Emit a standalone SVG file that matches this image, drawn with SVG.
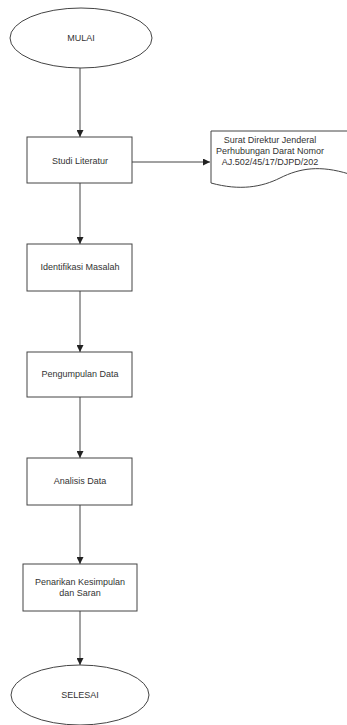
<svg xmlns="http://www.w3.org/2000/svg" width="347" height="725" viewBox="0 0 347 725">
<style>
.s{fill:#fff;stroke:#444;stroke-width:1}
.t{font-family:"Liberation Sans",Arial,sans-serif;font-size:9px;fill:#333;text-anchor:middle}
.c{stroke:#444;stroke-width:1;fill:none;marker-end:url(#a)}
</style>
<defs>
<marker id="a" viewBox="0 0 8 8" refX="8" refY="4" markerWidth="7" markerHeight="7" orient="auto" markerUnits="userSpaceOnUse">
<path d="M0,0 L8,4 L0,8 z" fill="#222"/>
</marker>
</defs>
<rect width="347" height="725" fill="#fff"/>
<g id="connectors">
<line class="c" x1="80" y1="68" x2="80" y2="137"/>
<line class="c" x1="132" y1="162" x2="210" y2="162"/>
<line class="c" x1="80" y1="183" x2="80" y2="244"/>
<line class="c" x1="80" y1="291" x2="80" y2="352"/>
<line class="c" x1="80" y1="397" x2="80" y2="458"/>
<line class="c" x1="80" y1="505" x2="80" y2="564"/>
<line class="c" x1="80" y1="611" x2="80" y2="665"/>
</g>
<g id="mulai">
<ellipse class="s" cx="81" cy="38" rx="71" ry="30"/>
<text class="t" x="81" y="41">MULAI</text>
</g>
<g id="studi">
<rect class="s" x="27" y="137" width="105" height="46"/>
<text class="t" x="80" y="164">Studi Literatur</text>
</g>
<g id="surat">
<path class="s" d="M211,131 L349,131 L349,174 C320,165 300,168 280,178 C262,187 240,191 211,183 Z"/>
<text class="t" x="270" y="143">Surat Direktur Jenderal</text>
<text class="t" x="270" y="154">Perhubungan Darat Nomor</text>
<text class="t" x="270" y="165">AJ.502/45/17/DJPD/202</text>
</g>
<g id="identifikasi">
<rect class="s" x="27" y="244" width="105" height="47"/>
<text class="t" x="80" y="270">Identifikasi Masalah</text>
</g>
<g id="pengumpulan">
<rect class="s" x="27" y="352" width="105" height="45"/>
<text class="t" x="80" y="377">Pengumpulan Data</text>
</g>
<g id="analisis">
<rect class="s" x="27" y="458" width="105" height="47"/>
<text class="t" x="80" y="484">Analisis Data</text>
</g>
<g id="penarikan">
<rect class="s" x="23" y="564" width="114" height="47"/>
<text class="t" x="80" y="585">Penarikan Kesimpulan</text>
<text class="t" x="80" y="596">dan Saran</text>
</g>
<g id="selesai">
<ellipse class="s" cx="80" cy="695" rx="69" ry="30"/>
<text class="t" x="80" y="698">SELESAI</text>
</g>
</svg>
